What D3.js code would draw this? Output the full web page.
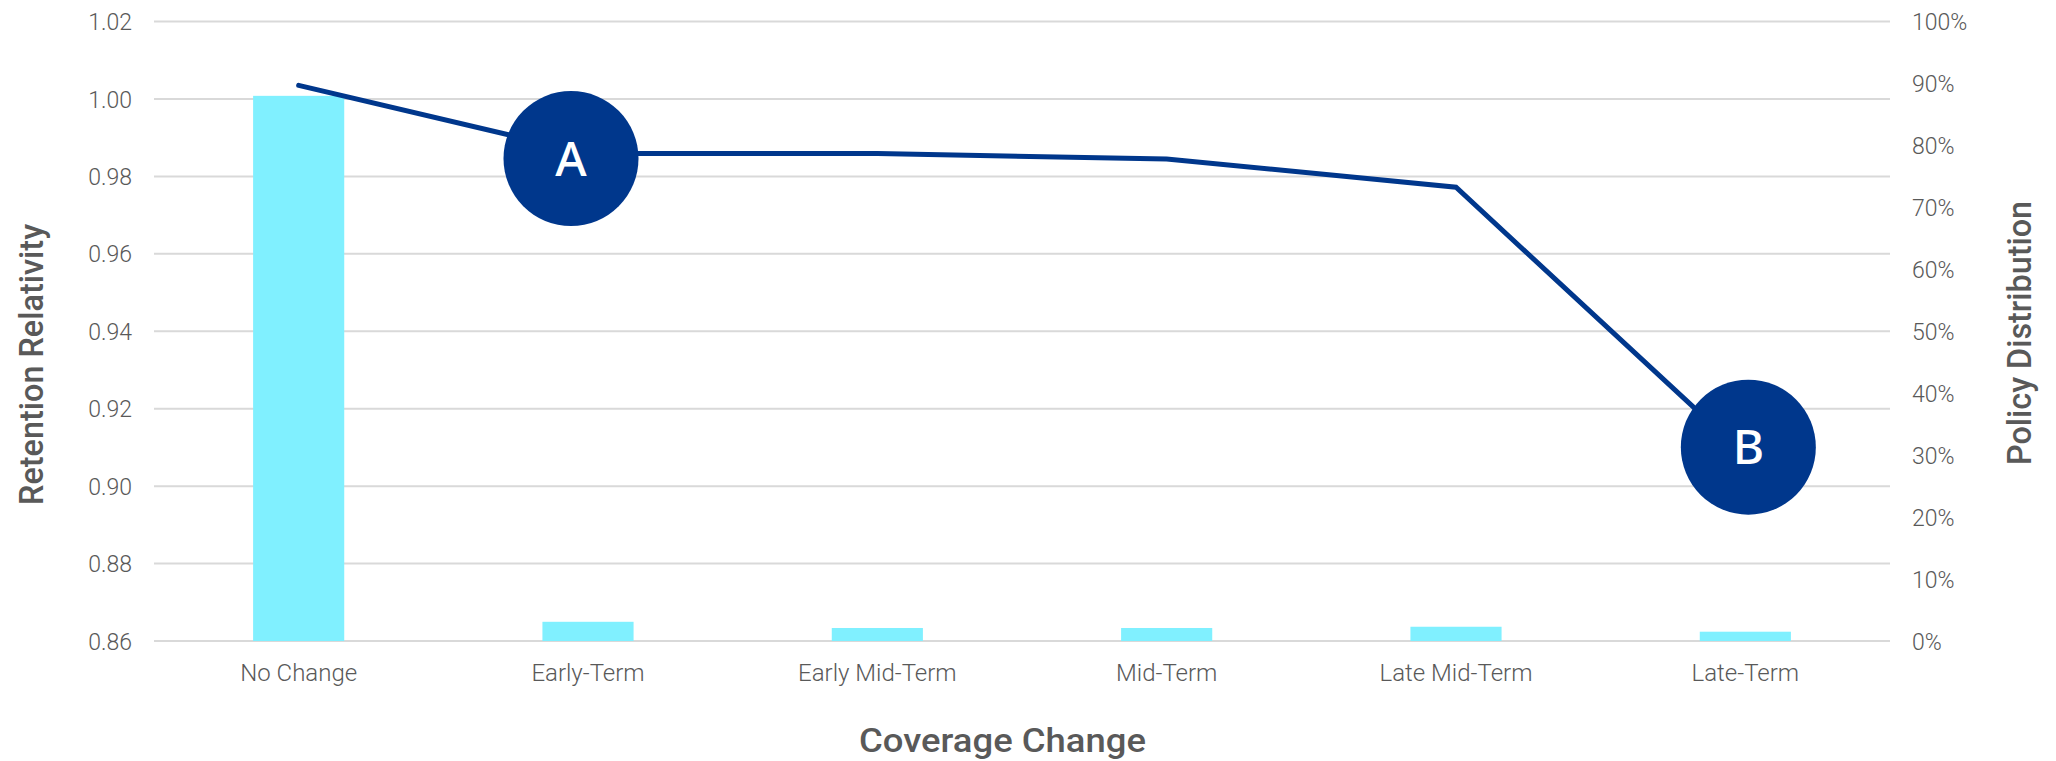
<!DOCTYPE html>
<html>
<head>
<meta charset="utf-8">
<script src="https://cdn.jsdelivr.net/npm/d3@7"></script>
<style>
  html, body { margin: 0; padding: 0; background: #ffffff; }
  svg { display: block; }
</style>
</head>
<body>
<svg id="chart" width="2056" height="761"></svg>
<script>
// Coverage change categories
const categories = ["No Change", "Early-Term", "Early Mid-Term", "Mid-Term", "Late Mid-Term", "Late-Term"];
// Share of policies in each category (right axis)
const policyDistribution = [0.880, 0.031, 0.021, 0.021, 0.023, 0.015];
// Retention relativity by category (left axis)
const retentionRelativity = [1.0035, 0.9859, 0.9859, 0.9845, 0.9772, 0.9080];
// Axis tick values
const leftTicks = [0.86, 0.88, 0.90, 0.92, 0.94, 0.96, 0.98, 1.00, 1.02];
const rightTicks = [0, 0.1, 0.2, 0.3, 0.4, 0.5, 0.6, 0.7, 0.8, 0.9, 1.0];
// Callout markers on the line
const calloutLabels = ["A", "B"];
const calloutCategories = ["Early-Term", "Late-Term"];

const svg = d3.select("#chart");
const plot = { left: 154, right: 1890, top: 21.5, bottom: 641 };

const x = d3.scaleBand().domain(categories).range([plot.left, plot.right]).paddingInner(0.685).paddingOuter(0.3425);
const yLeft = d3.scaleLinear().domain([0.86, 1.02]).range([plot.bottom, plot.top]);
const yRight = d3.scaleLinear().domain([0, 1]).range([plot.bottom, plot.top]);
const cx = c => x(c) + x.bandwidth() / 2;

const tickFont = "Roboto, 'Liberation Sans', sans-serif";
const textColor = "#595959";

// Horizontal gridlines from the left axis
svg.append("g").selectAll("line").data(leftTicks).join("line")
  .attr("x1", plot.left).attr("x2", plot.right)
  .attr("y1", d => yLeft(d)).attr("y2", d => yLeft(d))
  .attr("stroke", "#d9d9d9").attr("stroke-width", 2);

// Left axis
const leftAxis = svg.append("g").attr("transform", `translate(${plot.left - 22},0)`)
  .call(d3.axisLeft(yLeft).tickValues(leftTicks).tickFormat(d3.format(".2f")).tickSize(0).tickPadding(0));
leftAxis.select(".domain").remove();
leftAxis.selectAll("text").attr("font-family", tickFont).attr("font-weight", 300)
  .attr("font-size", 23).attr("fill", textColor).attr("dy", "0.35em");

// Right axis
const rightAxis = svg.append("g").attr("transform", `translate(${plot.right + 22},0)`)
  .call(d3.axisRight(yRight).tickValues(rightTicks).tickFormat(d3.format(".0%")).tickSize(0).tickPadding(0));
rightAxis.select(".domain").remove();
rightAxis.selectAll("text").attr("font-family", tickFont).attr("font-weight", 300)
  .attr("font-size", 23).attr("fill", textColor).attr("dy", "0.35em");

// Bottom axis
const bottomAxis = svg.append("g").attr("transform", `translate(0,${plot.bottom})`)
  .call(d3.axisBottom(x).tickSize(0).tickPadding(0));
bottomAxis.select(".domain").remove();
bottomAxis.selectAll("text").attr("font-family", tickFont).attr("font-weight", 300)
  .attr("font-size", 24).attr("fill", textColor).attr("y", 40).attr("dy", 0);

// Policy distribution bars
svg.append("g").selectAll("rect").data(categories).join("rect")
  .attr("x", d => x(d))
  .attr("width", x.bandwidth())
  .attr("y", (d, i) => yRight(policyDistribution[i]))
  .attr("height", (d, i) => plot.bottom - yRight(policyDistribution[i]))
  .attr("fill", "#80f0ff");

// Retention relativity line
const line = d3.line().x(d => cx(d.c)).y(d => yLeft(d.v));
svg.append("path")
  .datum(categories.map((c, i) => ({ c, v: retentionRelativity[i] })))
  .attr("d", line)
  .attr("fill", "none").attr("stroke", "#00378c").attr("stroke-width", 5)
  .attr("stroke-linecap", "round").attr("stroke-linejoin", "miter");

// Callout circles
const calloutShift = { "A": [-17, 5], "B": [3, -8] };
const callouts = svg.append("g").selectAll("g").data(calloutLabels).join("g")
  .attr("transform", (d, i) => {
    const idx = categories.indexOf(calloutCategories[i]);
    const s = calloutShift[d];
    return `translate(${cx(calloutCategories[i]) + s[0]},${yLeft(retentionRelativity[idx]) + s[1]})`;
  });
callouts.append("circle").attr("r", 67.5).attr("fill", "#00378c");
callouts.append("text").text(d => d)
  .attr("text-anchor", "middle").attr("dy", "0.36em")
  .attr("font-family", "'Noto Sans', sans-serif").attr("font-weight", 500)
  .attr("font-size", 48).attr("fill", "#ffffff");

// Axis titles
const titleFont = "Roboto, 'Liberation Sans', sans-serif";
svg.append("text").text("Retention Relativity")
  .attr("transform", "translate(43,364.5) rotate(-90)")
  .attr("text-anchor", "middle").attr("font-family", titleFont).attr("font-weight", 500)
  .attr("font-size", 33).attr("fill", textColor)
  .attr("textLength", 281).attr("lengthAdjust", "spacingAndGlyphs");

svg.append("text").text("Policy Distribution")
  .attr("transform", "translate(2031,333) rotate(-90)")
  .attr("text-anchor", "middle").attr("font-family", titleFont).attr("font-weight", 500)
  .attr("font-size", 33).attr("fill", textColor)
  .attr("textLength", 264).attr("lengthAdjust", "spacingAndGlyphs");

svg.append("text").text("Coverage Change")
  .attr("x", 1002.5).attr("y", 752)
  .attr("text-anchor", "middle").attr("font-family", titleFont).attr("font-weight", 500)
  .attr("font-size", 33).attr("fill", textColor)
  .attr("textLength", 287).attr("lengthAdjust", "spacingAndGlyphs");
</script>
</body>
</html>
